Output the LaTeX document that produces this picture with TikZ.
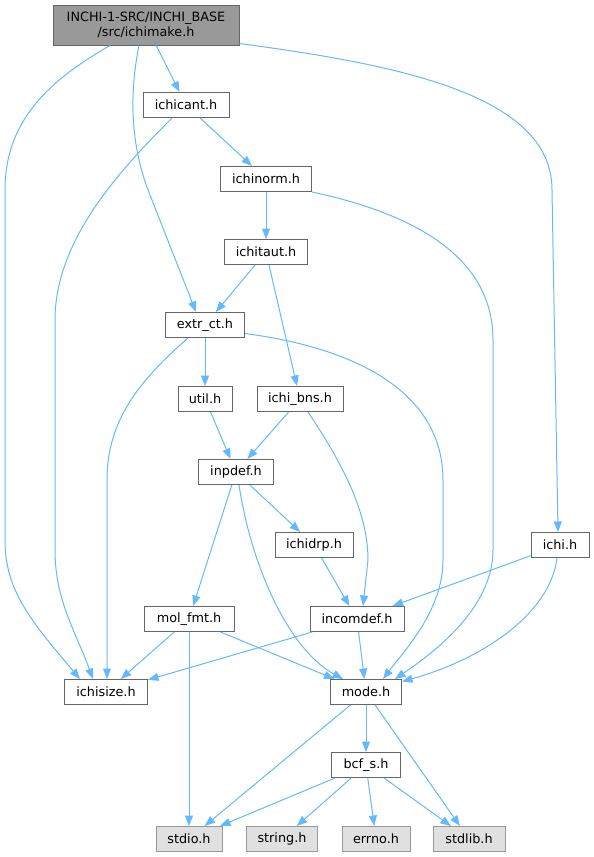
\documentclass[tikz,border=0pt]{standalone}
\usepackage{fontspec}
\setmainfont{DejaVu Sans}
\usetikzlibrary{arrows.meta, calc}

\definecolor{incblue}{HTML}{63B8FF}
\definecolor{rootfill}{HTML}{999999}
\definecolor{hdrdraw}{HTML}{666666}
\definecolor{sysfill}{HTML}{E0E0E0}
\definecolor{sysdraw}{HTML}{999999}

\tikzset{
  hdr/.style={draw=hdrdraw, fill=white, line width=1pt, minimum height=25pt,
    inner sep=0pt, font=\fontsize{12.8}{15}\selectfont},
  roothdr/.style={hdr, fill=rootfill, minimum height=40pt, align=center},
  syshdr/.style={hdr, draw=sysdraw, fill=sysfill},
  inc/.style={draw=incblue, line width=1pt, -{Triangle[length=10.5pt,width=8pt]}},
}

\begin{document}
\begin{tikzpicture}[x=1pt,y=-1pt]
\useasboundingbox (0,0) rectangle (594,857);

% headers
\node[roothdr, minimum width=186pt] (root) at (146,25) {INCHI-1-SRC/INCHI\_BASE\\/src/ichimake.h};
\node[hdr, minimum width=86pt] (ichicant) at (186,105) {ichicant.h};
\node[hdr, minimum width=91pt] (ichinorm) at (266,179) {ichinorm.h};
\node[hdr, minimum width=83pt] (ichitaut) at (266,252) {ichitaut.h};
\node[hdr, minimum width=79pt] (extrct) at (205,325) {extr\_ct.h};
\node[hdr, minimum width=54pt] (util) at (205,399) {util.h};
\node[hdr, minimum width=86pt] (ichibns) at (300,399) {ichi\_bns.h};
\node[hdr, minimum width=75pt] (inpdef) at (236,472) {inpdef.h};
\node[hdr, minimum width=78pt] (ichidrp) at (314,545) {ichidrp.h};
\node[hdr, minimum width=58pt] (ichi) at (560,545) {ichi.h};
\node[hdr, minimum width=90pt] (molfmt) at (189,619) {mol\_fmt.h};
\node[hdr, minimum width=94pt] (incomdef) at (357,619) {incomdef.h};
\node[hdr, minimum width=83pt] (ichisize) at (106,692) {ichisize.h};
\node[hdr, minimum width=71pt] (mode) at (366,692) {mode.h};
\node[hdr, minimum width=69pt] (bcfs) at (366,765) {bcf\_s.h};

% system headers
\node[syshdr, minimum width=66pt] (stdio) at (189,839) {stdio.h};
\node[syshdr, minimum width=71pt] (string) at (282,839) {string.h};
\node[syshdr, minimum width=68pt] (errno) at (376,839) {errno.h};
\node[syshdr, minimum width=72pt] (stdlib) at (469,839) {stdlib.h};

% straight includes
\draw[inc] (root) -- (ichicant);
\draw[inc] (ichicant) -- (ichinorm);
\draw[inc] (ichinorm) -- (ichitaut);
\draw[inc] (ichitaut) -- (extrct);
\draw[inc] (ichitaut) -- (ichibns);
\draw[inc] (extrct) -- (util);
\draw[inc] (util) -- (inpdef);
\draw[inc] (ichibns) -- (inpdef);
\draw[inc] (inpdef) -- (molfmt);
\draw[inc] (inpdef) -- (ichidrp);
\draw[inc] (ichidrp) -- (incomdef);
\draw[inc] (ichi) -- (incomdef);
\draw[inc] (molfmt) -- (ichisize);
\draw[inc] (molfmt) -- (stdio);
\draw[inc] (molfmt) -- (mode);
\draw[inc] (incomdef) -- (ichisize);
\draw[inc] (incomdef) -- (mode);
\draw[inc] (mode) -- (bcfs);
\draw[inc] (mode) -- (stdio);
\draw[inc] (mode) -- (stdlib);
\foreach \sys in {stdio, string, errno, stdlib}
  \draw[inc] (bcfs) -- (\sys);

% curved includes
\draw[inc] ([xshift=-36pt]root.south) .. controls (50,80) and (5,120) .. (5,190)
  -- (5,540) .. controls (5,590) and (30,620) .. ([xshift=-26pt]ichisize.north);
\draw[inc] ([xshift=-14pt]ichicant.south) .. controls (120,170) and (55,240) .. (55,320)
  -- (55,550) .. controls (55,600) and (75,630) .. ([xshift=-13pt]ichisize.north);
\draw[inc] ([xshift=-7pt]root.south) .. controls (128,100) and (132,150) .. (150,195)
  -- ([xshift=-9pt]extrct.north);
\draw[inc] ([yshift=2pt]root.south east) .. controls (400,65) and (552,95) .. (552,190)
  -- ([xshift=-2pt]ichi.north);
\draw[inc] (ichinorm.south east) .. controls (420,215) and (493,260) .. (493,340)
  -- (493,550) .. controls (493,610) and (430,655) .. ([xshift=29pt]mode.north);
\draw[inc] ([yshift=4.5pt]extrct.south east) .. controls (370,350) and (443,400) .. (443,480)
  -- (443,560) .. controls (443,610) and (405,650) .. ([xshift=17pt]mode.north);
\draw[inc] ([xshift=-17pt]extrct.south) .. controls (140,380) and (107,420) .. (107,480)
  -- ([xshift=1pt]ichisize.north);
\draw[inc] ([xshift=8pt]ichibns.south) .. controls (340,460) and (368,510) .. (368,560)
  -- ([xshift=6pt]incomdef.north);
\draw[inc] ([xshift=3pt]inpdef.south) .. controls (252,570) and (290,650) .. ([xshift=-23pt]mode.north);
\draw[inc] ([xshift=-3pt]ichi.south) .. controls (550,615) and (480,660) .. ([yshift=-2.5pt]mode.north east);
\end{tikzpicture}
\end{document}
